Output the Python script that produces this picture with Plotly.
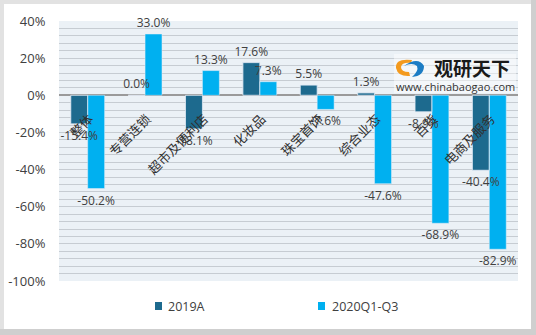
import plotly.graph_objects as go

categories = ["整体", "专营连锁", "超市及便利店", "化妆品", "珠宝首饰", "综合业态", "百货", "电商及服务"]
s2019 = [-15.4, 0.0, -18.1, 17.6, 5.5, 1.3, -8.9, -40.4]
s2020 = [-50.2, 33.0, 13.3, 7.3, -7.6, -47.6, -68.9, -82.9]
name2019 = "2019A"
name2020 = "2020Q1-Q3"
ytickvals = [40, 20, 0, -20, -40, -60, -80, -100]
yticktext = ["40%", "20%", "0%", "-20%", "-40%", "-60%", "-80%", "-100%"]

C2019 = "#1D6A8E"
C2020 = "#00B0F0"
W, H = 536, 335
ML, MR, MT, MB = 59, 18, 21, 54
PW, PH = W - ML - MR, H - MT - MB


def px(x):
    return (x - ML) / PW


def py(y):
    return (H - MB - y) / PH


LBL = dict(size=12, color="#404040", family="Open Sans, Noto Sans")

fig = go.Figure()
# 2019 bars (text added by an overlay trace so it sits above the 2020 bars)
fig.add_trace(go.Bar(x=categories, y=s2019, name=name2019, marker_color=C2019,
                     offsetgroup="a", showlegend=False, hoverinfo="skip"))
fig.add_trace(go.Bar(x=categories, y=s2020, name=name2020, marker_color=C2020,
                     offsetgroup="b", text=[f"{v:.1f}%" for v in s2020],
                     textposition="outside", constraintext="none", textfont=LBL,
                     cliponaxis=False, showlegend=False))
fig.add_trace(go.Bar(x=categories, y=s2019, name=name2019, marker_color="rgba(0,0,0,0)",
                     offsetgroup="a", text=[f"{v:.1f}%" for v in s2019],
                     textposition="outside", constraintext="none", textfont=LBL,
                     cliponaxis=False, showlegend=False))

FRAME = "#E2E2E2"
SHADOW = "#CFCFCF"
shapes = [
    dict(type="rect", xref="paper", yref="paper", x0=px(0), x1=px(W), y0=py(4), y1=py(0),
         fillcolor=FRAME, line=dict(width=0)),
    dict(type="rect", xref="paper", yref="paper", x0=px(0), x1=px(4), y0=py(H), y1=py(0),
         fillcolor=FRAME, line=dict(width=0)),
    dict(type="rect", xref="paper", yref="paper", x0=px(531), x1=px(W), y0=py(H), y1=py(0),
         fillcolor=SHADOW, line=dict(width=0)),
    dict(type="rect", xref="paper", yref="paper", x0=px(0), x1=px(W), y0=py(H), y1=py(329),
         fillcolor=SHADOW, line=dict(width=0)),
    # legend swatches
    dict(type="rect", xref="paper", yref="paper", x0=px(155), x1=px(162), y0=py(310), y1=py(302),
         fillcolor=C2019, line=dict(width=0)),
    dict(type="rect", xref="paper", yref="paper", x0=px(318), x1=px(325), y0=py(310), y1=py(302),
         fillcolor=C2020, line=dict(width=0)),
    # logo backdrop
    dict(type="rect", xref="paper", yref="paper", layer="above",
         x0=px(394), x1=px(516), y0=py(93), y1=py(54),
         fillcolor="rgba(255,255,255,0.45)", line=dict(width=0)),
    # logo icon (orange arc + blue swoosh)
    dict(type="path", xref="paper", yref="paper", layer="above",
         path=f"M {px(412)},{py(60)} Q {px(395)},{py(58)} {px(396)},{py(68)} Q {px(398)},{py(77)} {px(410)},{py(76)} L {px(409)},{py(72)} Q {px(401)},{py(72)} {px(401)},{py(67)} Q {px(402)},{py(62)} {px(411)},{py(63)} Z",
         fillcolor="#F39A1E", line=dict(width=0)),
    dict(type="path", xref="paper", yref="paper", layer="above",
         path=f"M {px(404)},{py(66)} Q {px(418)},{py(56)} {px(424)},{py(66)} Q {px(424)},{py(76)} {px(412)},{py(77)} Q {px(419)},{py(71)} {px(417)},{py(66)} Q {px(412)},{py(62)} {px(404)},{py(66)} Z",
         fillcolor="#1C7CC4", line=dict(width=0)),
]

annotations = [
    dict(text="<b>观研天下</b>", x=px(472), y=py(67), xref="paper", yref="paper",
         xanchor="center", yanchor="middle", showarrow=False,
         font=dict(size=19, color="#1a1a1a", family="Noto Sans CJK SC")),
    dict(text="www.chinabaogao.com", x=px(455), y=py(86), xref="paper", yref="paper",
         xanchor="center", yanchor="middle", showarrow=False,
         font=dict(size=11, color="#333333", family="Open Sans, Noto Sans")),
    dict(text=name2019, x=px(166), y=py(306), xref="paper", yref="paper",
         xanchor="left", yanchor="middle", showarrow=False,
         font=dict(size=12.5, color="#404040", family="Open Sans, Noto Sans")),
    dict(text=name2020, x=px(330), y=py(306), xref="paper", yref="paper",
         xanchor="left", yanchor="middle", showarrow=False,
         font=dict(size=12.5, color="#404040", family="Open Sans, Noto Sans")),
]

fig.update_layout(
    width=W, height=H,
    margin=dict(l=ML, r=MR, t=MT, b=MB, autoexpand=False),
    paper_bgcolor="white",
    plot_bgcolor="#EBF1F6",
    barmode="group", bargap=0.41, bargroupgap=0,
    shapes=shapes, annotations=annotations, showlegend=False,
    font=dict(family="Open Sans, Noto Sans CJK SC", color="#404040"),
    xaxis=dict(anchor="free", position=py(95), showline=False, showgrid=False,
               tickangle=-45, ticks="", zeroline=False, automargin=False,
               ticklabelstandoff=13, ticklabelshift=2,
               tickfont=dict(size=13, color="#303030", family="Noto Sans CJK SC")),
    yaxis=dict(range=[-100, 40], tickvals=ytickvals, ticktext=yticktext,
               showgrid=True, gridcolor="#C6CCD2", gridwidth=1, automargin=False,
               minor=dict(dtick=4, showgrid=True, gridcolor="#C6CCD2", gridwidth=1),
               zeroline=True, zerolinecolor="#9A9A9A", zerolinewidth=1.5,
               ticks="outside", ticklen=10, tickcolor="rgba(0,0,0,0)",
               tickfont=dict(size=13, color="#404040")),
)

fig.write_html("out.html")
